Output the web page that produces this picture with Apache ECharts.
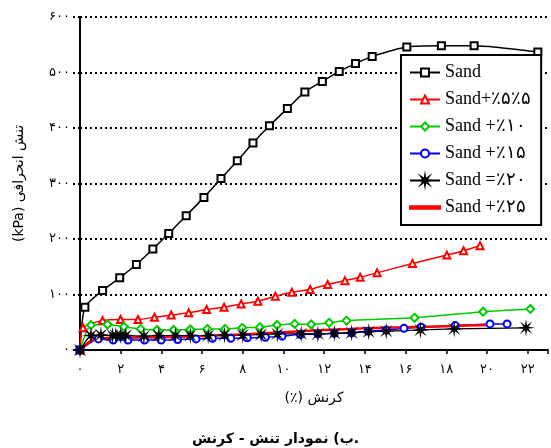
<!DOCTYPE html>
<html>
<head>
<meta charset="utf-8">
<script src="https://cdn.jsdelivr.net/npm/echarts@6/dist/echarts.min.js"></script>
<style>html,body{margin:0;padding:0;background:#fff;}#c{width:551px;height:448px;}</style>
</head>
<body>
<div id="c"></div>
<script>
// ---- data (strain %, deviatoric stress kPa) ----
var seriesNames = ['Sand', 'Sand+٪۵٪۵', 'Sand +٪۱۰', 'Sand +٪۱۵', 'Sand =٪۲۰', 'Sand +٪۲۵'];
var sand = [[0,0],[0.24,77],[1.11,107],[1.95,130],[2.77,154],[3.58,182],[4.36,210],[5.22,242],[6.09,275],[6.93,309],[7.73,341],[8.5,373],[9.31,404],[10.19,435],[11.05,465],[11.91,484],[12.74,502],[13.54,516],[14.36,529],[16.06,546],[17.76,548],[19.37,548],[22.5,537]];
var sand5 = [[0,0],[0.15,40],[1.11,53],[1.99,55],[2.85,55],[3.66,59],[4.48,63],[5.34,67],[6.22,73],[7.08,77],[7.92,83],[8.74,88],[9.6,97],[10.41,104],[11.31,109],[12.17,118],[13.02,125],[13.77,131],[14.6,139],[16.34,156],[18.03,171],[18.85,179],[19.66,188]];
var sand10 = [[0,0],[0.54,45],[1.35,46],[2.16,42],[2.98,38],[3.79,36],[4.6,36],[5.42,37],[6.26,38],[7.13,38],[7.97,40],[8.84,41],[9.68,45],[10.55,47],[11.36,46],[12.24,49],[13.1,53],[16.44,58],[19.81,69],[22.13,74]];
var sand15 = [[0,0],[0.9,20],[1.63,18],[2.36,18],[3.17,18],[3.99,18],[4.8,19],[5.7,20],[6.51,21],[7.41,21],[8.22,22],[9.11,23],[9.93,25],[10.83,28],[11.69,29],[12.5,30],[13.35,31],[14.16,34],[15.05,36],[15.92,39],[16.76,41],[18.44,44],[20.15,47],[20.99,47]];
var sand20 = [[0,0],[0.54,26],[1.03,27],[1.6,26],[1.76,26],[2.0,26],[2.25,26],[3.14,25],[3.87,26],[4.69,26],[5.42,26],[6.3,26],[7.1,27],[8.0,27],[8.9,28],[9.7,29],[10.87,29],[11.69,29],[12.5,30],[13.35,31],[14.19,33],[15.05,34],[16.73,36],[18.39,38],[21.92,40]];
var sand25 = [[0,0],[0.3,10],[0.6,18],[1,21],[2,22],[4,23],[6,25],[8,28],[10,32],[12,36],[14,39],[16,41],[18,43],[20.1,45]];
var xTickValues = [0,2,4,6,8,10,12,14,16,18,20,22];
var xTickLabels = ['۰','۲','۴','۶','۸','۱۰','۱۲','۱۴','۱۶','۱۸','۲۰','۲۲'];
var yTickValues = [0,100,200,300,400,500,600];
var yTickLabels = ['۰','۱۰۰','۲۰۰','۳۰۰','۴۰۰','۵۰۰','۶۰۰'];
var xName = '(٪) کرنش';
var yName = '(kPa) تنش انحرافی';
var caption = 'ب) نمودار تنش - کرنش.';

// asterisk symbol
var pts = [];
for (var i = 0; i < 16; i++) {
  var r = (i % 2 === 0) ? 10 : 3;
  var a = Math.PI * i / 8;
  pts.push((r * Math.cos(a)).toFixed(2) + ',' + (r * Math.sin(a)).toFixed(2));
}
var starPath = 'path://M' + pts.join('L') + 'Z';
var lineIcon = 'path://M0,0L30,0L30,2.5L0,2.5Z';

function lab(vals, labels) {
  return function (v) { var k = vals.indexOf(v); return k >= 0 ? labels[k] : ''; };
}

var chart = echarts.init(document.getElementById('c'));
function mk(name, data, color, symbol, size, width) {
  return {
    name: name, type: 'line', data: data, smooth: 0.2,
    symbol: symbol, symbolSize: size, showAllSymbol: true,
    lineStyle: { color: color, width: width },
    itemStyle: { color: color, borderColor: color, borderWidth: 1.5 },
    emphasis: { disabled: true }, animation: false
  };
}
var legendData = seriesNames.map(function (n, idx) {
  return idx === 5 ? { name: n, icon: lineIcon } : { name: n };
});
chart.setOption({
  animation: false,
  title: {
    text: caption, left: 'center', top: 427,
    textStyle: { fontFamily: 'DejaVu Sans', fontWeight: 'bold', fontSize: 14, color: '#000' }
  },
  grid: { left: 80, right: 0, top: 17, bottom: 98, containLabel: false },
  legend: {
    orient: 'vertical', left: 401, top: 55, width: 143,
    padding: [8, 10, 8, 8], itemGap: 8, itemWidth: 30, itemHeight: 10,
    backgroundColor: '#fff', borderColor: '#000', borderWidth: 2,
    symbolKeepAspect: true,
    textStyle: { fontFamily: 'Liberation Serif', fontSize: 18, color: '#000', lineHeight: 19 },
    data: legendData
  },
  xAxis: {
    type: 'value', min: 0, max: 23, interval: 2,
    name: xName, nameLocation: 'middle', nameGap: 41,
    nameTextStyle: { fontFamily: 'DejaVu Sans', fontSize: 14, color: '#000' },
    axisLine: { lineStyle: { color: '#000', width: 2 } },
    axisTick: { show: true, length: 4, lineStyle: { color: '#000', width: 1.5 } },
    axisLabel: { color: '#000', fontFamily: 'DejaVu Sans', fontSize: 13, margin: 13, formatter: lab(xTickValues, xTickLabels) },
    splitLine: { show: false }
  },
  yAxis: {
    type: 'value', min: 0, max: 600, interval: 100,
    name: yName, nameLocation: 'middle', nameGap: 54,
    nameTextStyle: { fontFamily: 'DejaVu Sans', fontSize: 14, color: '#000' },
    axisLine: { show: true, lineStyle: { color: '#000', width: 2 } },
    axisTick: { show: true, length: 8, lineStyle: { color: '#000', width: 2, type: [2, 3] } },
    axisLabel: { color: '#000', fontFamily: 'DejaVu Sans', fontSize: 13, margin: 10, formatter: lab(yTickValues, yTickLabels) },
    splitLine: { show: true, lineStyle: { color: '#000', width: 2, type: [2, 3] } }
  },
  series: [
    mk(seriesNames[0], sand, '#000000', 'emptyRect', 7, 1.5),
    mk(seriesNames[1], sand5, '#ff0000', 'emptyTriangle', 7, 1.5),
    mk(seriesNames[2], sand10, '#00cc00', 'emptyDiamond', 8, 1.5),
    mk(seriesNames[3], sand15, '#0000ff', 'emptyCircle', 7, 1.5),
    mk(seriesNames[4], sand20, '#000000', starPath, 8, 1.2),
    mk(seriesNames[5], sand25, '#ff0000', 'none', 0, 2.5)
  ]
});
</script>
</body>
</html>
